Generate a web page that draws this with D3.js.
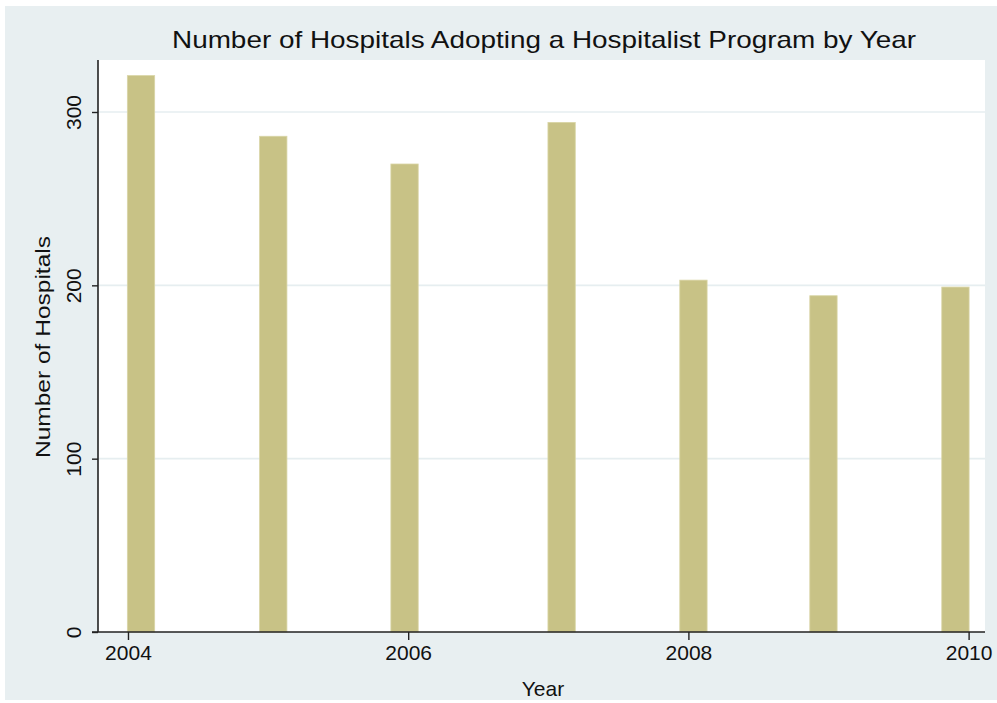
<!DOCTYPE html>
<html>
<head>
<meta charset="utf-8">
<script src="https://cdn.jsdelivr.net/npm/d3@7"></script>
<style>
  body { margin: 0; background: #fff; }
  text { font-family: "Liberation Sans", Arial, sans-serif; fill: #111; }
</style>
</head>
<body>
<script>
// bar centres (fractional years)
const years = [2004.093, 2005.037, 2005.974, 2007.095, 2008.036, 2008.964, 2009.906];
const hospitals = [321, 286, 270, 294, 203, 194, 199];
const xTicks = [2004, 2006, 2008, 2010];
const yTicks = [0, 100, 200, 300];
const barWidthYears = 0.195;

const width = 997, height = 703;
const plot = { left: 98, right: 985, top: 60, bottom: 632 };

const svg = d3.select("body").append("svg")
  .attr("width", width)
  .attr("height", height);

// Outer background
svg.append("rect")
  .attr("x", 5).attr("y", 6)
  .attr("width", width - 5).attr("height", 694)
  .attr("fill", "#e8eff1");

// Plot region
svg.append("rect")
  .attr("x", plot.left).attr("y", plot.top)
  .attr("width", plot.right - plot.left)
  .attr("height", plot.bottom - plot.top)
  .attr("fill", "#ffffff");

const x = d3.scaleLinear()
  .domain([2003.786, 2010.117])
  .range([plot.left, plot.right]);
const y = d3.scaleLinear()
  .domain([0, 330])
  .range([plot.bottom, plot.top]);

// Gridlines
svg.append("g")
  .selectAll("line")
  .data(yTicks.filter(d => d > 0))
  .enter().append("line")
  .attr("x1", plot.left).attr("x2", plot.right)
  .attr("y1", d => y(d)).attr("y2", d => y(d))
  .attr("stroke", "#e6eef0")
  .attr("stroke-width", 1.6);

// Bars
svg.append("g")
  .selectAll("rect")
  .data(years.map((yr, i) => ({ yr, v: hospitals[i] })))
  .enter().append("rect")
  .attr("x", d => x(d.yr - barWidthYears / 2))
  .attr("width", d => x(d.yr + barWidthYears / 2) - x(d.yr - barWidthYears / 2))
  .attr("y", d => y(d.v))
  .attr("height", d => y(0) - y(d.v))
  .attr("fill", "#c8c286")
  .attr("stroke", "#d9d5a6")
  .attr("stroke-width", 0.8);

// X axis
const xAxis = svg.append("g")
  .attr("transform", "translate(0," + plot.bottom + ")")
  .call(d3.axisBottom(x).tickValues(xTicks).tickFormat(d3.format("d")).tickSize(8).tickSizeOuter(0));
xAxis.select(".domain").attr("stroke", "#222").attr("stroke-width", 1.6)
  .attr("d", "M" + (plot.left - 6) + ",0H" + plot.right);
xAxis.selectAll(".tick line").attr("stroke", "#222").attr("stroke-width", 1.4);
xAxis.selectAll(".tick text")
  .attr("y", 13)
  .attr("font-size", 21)
  .attr("font-family", "Liberation Sans, Arial, sans-serif")
  .attr("fill", "#111");

// Y axis
const yAxis = svg.append("g")
  .attr("transform", "translate(" + plot.left + ",0)")
  .call(d3.axisLeft(y).tickValues(yTicks).tickSize(6).tickSizeOuter(0));
yAxis.select(".domain").attr("stroke", "#222").attr("stroke-width", 1.6)
  .attr("d", "M0," + plot.bottom + "V" + plot.top);
yAxis.selectAll(".tick line").attr("stroke", "#222").attr("stroke-width", 1.4);
yAxis.selectAll(".tick text")
  .attr("x", null).attr("dy", null)
  .attr("transform", "translate(-17,0) rotate(-90)")
  .attr("text-anchor", "middle")
  .attr("font-size", 21)
  .attr("font-family", "Liberation Sans, Arial, sans-serif")
  .attr("fill", "#111");

// Title
svg.append("text")
  .attr("x", 544).attr("y", 48)
  .attr("text-anchor", "middle")
  .attr("font-size", 24)
  .attr("textLength", 744)
  .attr("lengthAdjust", "spacingAndGlyphs")
  .text("Number of Hospitals Adopting a Hospitalist Program by Year");

// Axis titles
svg.append("text")
  .attr("x", 543).attr("y", 696)
  .attr("text-anchor", "middle")
  .attr("font-size", 21)
  .text("Year");

svg.append("text")
  .attr("transform", "translate(50,347) rotate(-90)")
  .attr("text-anchor", "middle")
  .attr("font-size", 21)
  .attr("textLength", 222)
  .attr("lengthAdjust", "spacingAndGlyphs")
  .text("Number of Hospitals");
</script>
</body>
</html>
